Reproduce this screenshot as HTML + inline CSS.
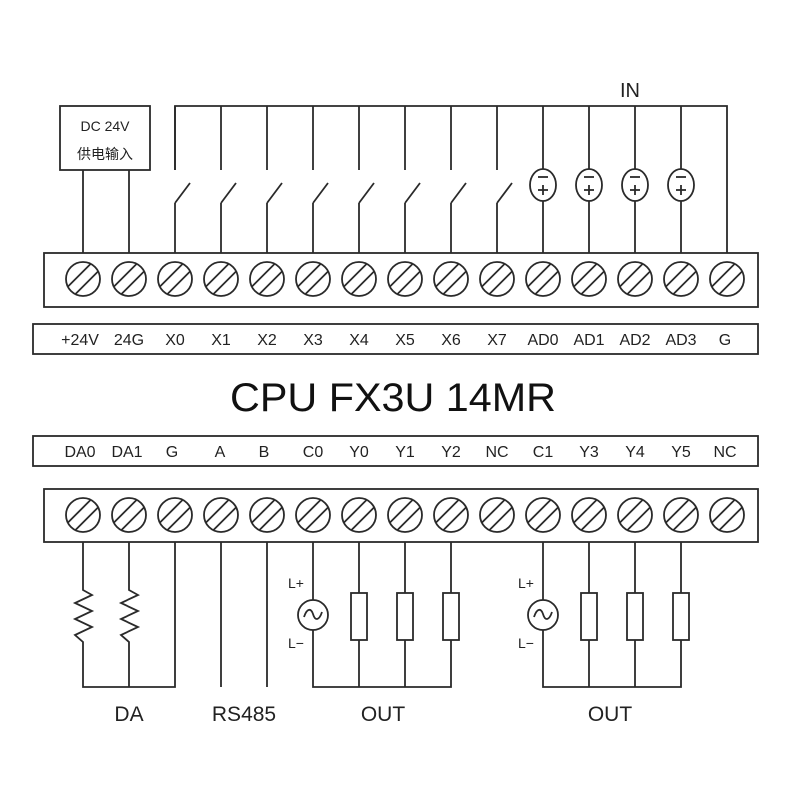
<!DOCTYPE html>
<html><head><meta charset="utf-8"><style>body{margin:0;background:#fff}svg{display:block}</style></head><body>
<svg width="800" height="800" viewBox="0 0 800 800" xmlns="http://www.w3.org/2000/svg" font-family="Liberation Sans, Noto Sans CJK SC, sans-serif" fill="none" stroke="#2a2a2a" stroke-width="1.8">
<defs>
<g id="t"><circle r="17" fill="#fff"/><line x1="-7.5" y1="15" x2="15" y2="-7.5"/><line x1="-15" y1="7.5" x2="7.5" y2="-15"/></g>
</defs>
<rect x="44" y="253" width="714" height="54" fill="#fff"/>
<g>
<use href="#t" x="83" y="279"/><use href="#t" x="129" y="279"/><use href="#t" x="175" y="279"/><use href="#t" x="221" y="279"/><use href="#t" x="267" y="279"/><use href="#t" x="313" y="279"/><use href="#t" x="359" y="279"/><use href="#t" x="405" y="279"/><use href="#t" x="451" y="279"/><use href="#t" x="497" y="279"/><use href="#t" x="543" y="279"/><use href="#t" x="589" y="279"/><use href="#t" x="635" y="279"/><use href="#t" x="681" y="279"/><use href="#t" x="727" y="279"/>
</g>
<rect x="60" y="106" width="90" height="64"/>
<line x1="83" y1="170" x2="83" y2="253"/><line x1="129" y1="170" x2="129" y2="253"/>
<g fill="#222" stroke="none" font-size="14" text-anchor="middle"><text x="105" y="131">DC 24V</text><text x="105" y="159">供电输入</text></g>
<polyline points="175,170 175,106 727,106 727,253"/>
<g id="s">
<line x1="175" y1="106" x2="175" y2="170"/><line x1="175" y1="203" x2="175" y2="253"/><line x1="175" y1="203" x2="190" y2="183"/>
</g>
<use href="#s" x="46"/><use href="#s" x="92"/><use href="#s" x="138"/><use href="#s" x="184"/><use href="#s" x="230"/><use href="#s" x="276"/><use href="#s" x="322"/>
<g id="ad">
<line x1="543" y1="106" x2="543" y2="169"/><line x1="543" y1="201" x2="543" y2="253"/>
<ellipse cx="543" cy="185" rx="13" ry="16" fill="#fff"/>
<line x1="538" y1="177" x2="548" y2="177"/><line x1="538" y1="190" x2="548" y2="190"/><line x1="543" y1="185" x2="543" y2="195"/>
</g>
<use href="#ad" x="46"/><use href="#ad" x="92"/><use href="#ad" x="138"/>
<text x="630" y="97" fill="#222" stroke="none" font-size="20" text-anchor="middle">IN</text>
<rect x="33" y="324" width="725" height="30"/>
<g fill="#222" stroke="none" font-size="16" text-anchor="middle">
<text x="80" y="345">+24V</text><text x="129" y="345">24G</text><text x="175" y="345">X0</text><text x="221" y="345">X1</text><text x="267" y="345">X2</text><text x="313" y="345">X3</text><text x="359" y="345">X4</text><text x="405" y="345">X5</text><text x="451" y="345">X6</text><text x="497" y="345">X7</text><text x="543" y="345">AD0</text><text x="589" y="345">AD1</text><text x="635" y="345">AD2</text><text x="681" y="345">AD3</text><text x="725" y="345">G</text>
</g>
<text x="393" y="411" fill="#111" stroke="none" font-size="40" text-anchor="middle" textLength="326" lengthAdjust="spacingAndGlyphs">CPU FX3U 14MR</text>
<rect x="33" y="436" width="725" height="30"/>
<g fill="#222" stroke="none" font-size="16" text-anchor="middle">
<text x="80" y="457">DA0</text><text x="127" y="457">DA1</text><text x="172" y="457">G</text><text x="220" y="457">A</text><text x="264" y="457">B</text><text x="313" y="457">C0</text><text x="359" y="457">Y0</text><text x="405" y="457">Y1</text><text x="451" y="457">Y2</text><text x="497" y="457">NC</text><text x="543" y="457">C1</text><text x="589" y="457">Y3</text><text x="635" y="457">Y4</text><text x="681" y="457">Y5</text><text x="725" y="457">NC</text>
</g>
<rect x="44" y="489" width="714" height="53" fill="#fff"/>
<g>
<use href="#t" x="83" y="515"/><use href="#t" x="129" y="515"/><use href="#t" x="175" y="515"/><use href="#t" x="221" y="515"/><use href="#t" x="267" y="515"/><use href="#t" x="313" y="515"/><use href="#t" x="359" y="515"/><use href="#t" x="405" y="515"/><use href="#t" x="451" y="515"/><use href="#t" x="497" y="515"/><use href="#t" x="543" y="515"/><use href="#t" x="589" y="515"/><use href="#t" x="635" y="515"/><use href="#t" x="681" y="515"/><use href="#t" x="727" y="515"/>
</g>
<polyline points="83,542 83,590 92,595 75,603 92,611 75,619 92,627 75,635 83,642 83,687 175,687 175,542"/>
<polyline points="129,542 129,590 138,595 121,603 138,611 121,619 138,627 121,635 129,642 129,687"/>
<line x1="221" y1="542" x2="221" y2="687"/><line x1="267" y1="542" x2="267" y2="687"/>
<g id="out">
<polyline points="313,542 313,600"/><polyline points="313,630 313,687 451,687 451,542"/>
<circle cx="313" cy="615" r="15" fill="#fff"/>
<path d="M304,617 C307,608 311,608 313,614 C315,621 319,621 322,612"/>
<line x1="359" y1="542" x2="359" y2="687"/><line x1="405" y1="542" x2="405" y2="687"/>
<rect x="351" y="593" width="16" height="47" fill="#fff"/><rect x="397" y="593" width="16" height="47" fill="#fff"/><rect x="443" y="593" width="16" height="47" fill="#fff"/>
<g fill="#222" stroke="none" font-size="14"><text x="288" y="588">L+</text><text x="288" y="648">L−</text></g>
</g>
<use href="#out" x="230"/>
<g fill="#222" stroke="none" font-size="21" text-anchor="middle">
<text x="129" y="721">DA</text><text x="244" y="721">RS485</text><text x="383" y="721">OUT</text><text x="610" y="721">OUT</text>
</g>
</svg>
</body></html>
